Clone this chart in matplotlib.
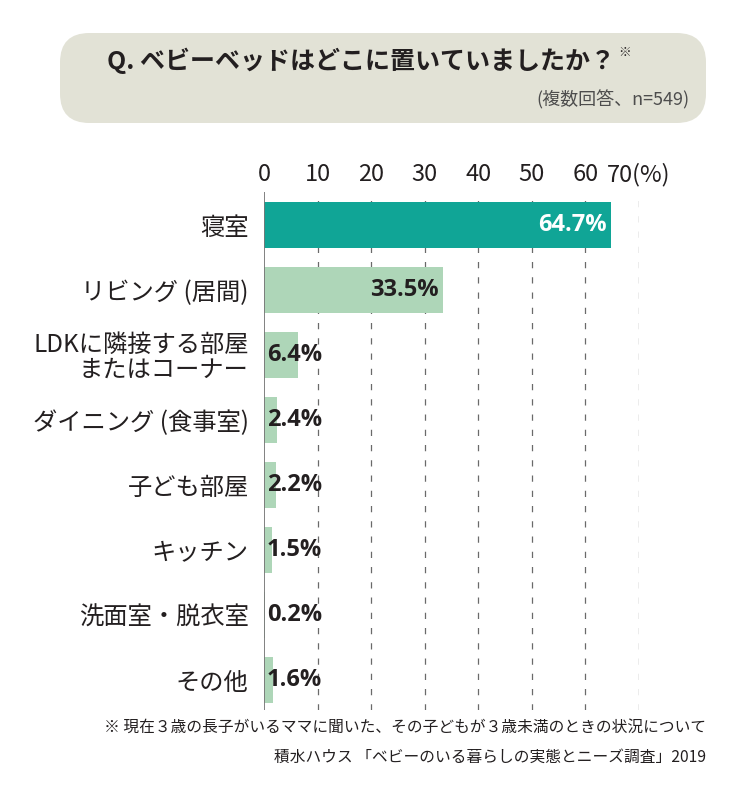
import matplotlib
matplotlib.use("Agg")
import matplotlib.pyplot as plt
from matplotlib.patches import FancyBboxPatch

plt.rcParams['font.family'] = ['Noto Sans CJK JP', 'DejaVu Sans']

categories = ["寝室", "リビング (居間)", "LDKに隣接する部屋\nまたはコーナー", "ダイニング (食事室)",
              "子ども部屋", "キッチン", "洗面室・脱衣室", "その他"]
values = [64.7, 33.5, 6.4, 2.4, 2.2, 1.5, 0.2, 1.6]
ticks = [0, 10, 20, 30, 40, 50, 60, 70]
tick_labels = ["0", "10", "20", "30", "40", "50", "60", "70(%)"]
title = "Q. ベビーベッドはどこに置いていましたか？"
subtitle = "(複数回答、n=549)"
note1 = "※ 現在３歳の長子がいるママに聞いた、その子どもが３歳未満のときの状況について"
note2 = "積水ハウス 「ベビーのいる暮らしの実態とニーズ調査」2019"

W, H = 735, 800
fig = plt.figure(figsize=(W / 100, H / 100), dpi=100)

# title box
box = FancyBboxPatch((60 / W, 1 - 123 / H), (706 - 60) / W, (123 - 33) / H,
                     boxstyle="round,pad=0,rounding_size=0.04", transform=fig.transFigure,
                     facecolor="#e2e2d6", edgecolor="none", mutation_aspect=W / H)
fig.patches.append(box)
t = fig.text(107 / W, 1 - 61 / H, title, ha="left", va="center", fontsize=18,
             fontweight="bold", color="#231f20")
fig.canvas.draw()
bb = t.get_window_extent()
fig.text(bb.x1 / W + 3 / W, 1 - 52 / H, "※", ha="left", va="center", fontsize=9, color="#231f20")
fig.text(690 / W, 1 - 100 / H, subtitle, ha="right", va="center", fontsize=13, color="#4d4d4d")

# axes
ax = fig.add_axes([264 / W, 1 - 710 / H, (639 - 264) / W, (710 - 192) / H])
n = len(values)
ypos = list(range(n))
colors = ["#10a596"] + ["#aed6b8"] * (n - 1)
ax.barh(ypos, values, height=0.715, color=colors, zorder=2)
ax.set_xlim(0, 70)
ax.set_ylim(7.46, -0.508)

for tk in ticks[1:]:
    ax.axvline(tk, color="#6a6a6a", lw=0.9, linestyle=(0, (5, 7.2)), zorder=1)
ax.axvline(0, color="#777777", lw=1.3, zorder=3)

for s in ax.spines.values():
    s.set_visible(False)
ax.xaxis.tick_top()
ax.set_xticks(ticks)
ax.set_xticklabels(tick_labels, fontsize=17, color="#231f20",
                   family=['Liberation Sans Narrow', 'Noto Sans CJK JP'])
ax.tick_params(axis="x", length=0, pad=4)
ax.set_yticks(ypos)
ax.set_yticklabels(categories, fontsize=17.5, color="#231f20", linespacing=0.95)
ax.tick_params(axis="y", length=0, pad=11)

for i, v in enumerate(values):
    txt = f"{v}%"
    if i == 0:
        ax.text(v - 0.8, i, txt, ha="right", va="center", color="white", fontsize=17,
                fontweight="bold", family="Open Sans", zorder=4)
    elif v > 10:
        ax.text(v - 0.9, i, txt, ha="right", va="center", color="#231f20", fontsize=17,
                fontweight="bold", family="Open Sans", zorder=4)
    else:
        ax.text(0.5, i, txt, ha="left", va="center", color="#231f20", fontsize=17,
                fontweight="bold", family="Open Sans", zorder=4)

fig.text(706 / W, 1 - 727 / H, note1, ha="right", va="center", fontsize=11.3, color="#231f20")
fig.text(706 / W, 1 - 757 / H, note2, ha="right", va="center", fontsize=11.3, color="#231f20")

fig.savefig("out.png", dpi=100, facecolor="white")
